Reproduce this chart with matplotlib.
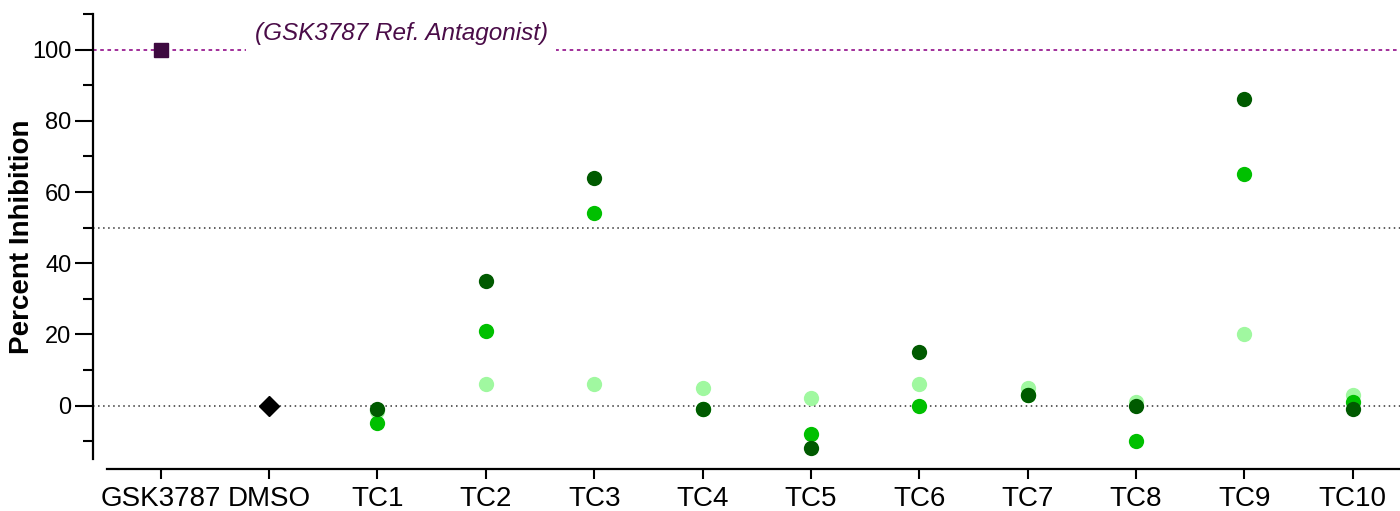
import matplotlib
matplotlib.use("Agg")
import matplotlib.pyplot as plt
from matplotlib.ticker import MultipleLocator, FixedLocator
import numpy as np

plt.rcParams['font.family'] = ['Liberation Sans', 'DejaVu Sans']

categories = ["GSK3787", "DMSO", "TC1", "TC2", "TC3", "TC4", "TC5", "TC6",
              "TC7", "TC8", "TC9", "TC10"]
ref_value = 100      # GSK3787 reference antagonist
dmso_value = 0       # DMSO vehicle
test_labels = categories[2:]
light_series = [-1.5, 6, 6, 5, 2, 6, 5, 1, 20, 3]
mid_series = [-5, 21, 54, -1, -8, 0, 3, -10, 65, 1]
dark_series = [-1, 35, 64, -1, -12, 15, 3, 0, 86, -1]
y_major = [0, 20, 40, 60, 80, 100]
threshold = 50

W, H = 1400, 511
fig = plt.figure(figsize=(W / 100, H / 100), dpi=100)
ax = fig.add_axes([93 / W, 52 / H, 1 - 93 / W, (459 - 14) / H])
ax.set_xlim(-0.625, 11.437)
ax.set_ylim(-15, 110)

xpos = np.arange(len(categories))
xt = xpos[2:]

# reference lines
ax.axhline(0, color='#333333', lw=1.1, ls=(0, (1, 2.3)), zorder=1)
ax.axhline(threshold, color='#333333', lw=1.1, ls=(0, (1, 2.3)), zorder=1)
ax.axhline(ref_value, color='#9a1f92', lw=1.3, ls=(0, (2.0, 2.0)), zorder=1)
ax.text(2.22, 104.6, "(GSK3787 Ref. Antagonist)", style='italic',
        fontsize=17.5, color='#4a0c48', ha='center', va='center', zorder=2,
        bbox=dict(boxstyle='square,pad=0.35', fc='white', ec='none'))

# points
ax.plot([xpos[0]], [ref_value], ls='none', marker='s', ms=10.5, color='#3e0a40', zorder=4)
ax.plot([xpos[1]], [dmso_value], ls='none', marker='D', ms=10, color='black', zorder=4)
ax.plot(xt, light_series, ls='none', marker='o', ms=11, color='#a0f8a0', mec='none', zorder=3)
ax.plot(xt, mid_series, ls='none', marker='o', ms=11, color='#00c000', mec='none', zorder=3)
ax.plot(xt, dark_series, ls='none', marker='o', ms=11, color='#005a00', mec='none', zorder=3)

# axes styling
for s in ['top', 'right']:
    ax.spines[s].set_visible(False)
ax.spines['left'].set_linewidth(1.6)
ax.spines['bottom'].set_linewidth(1.6)
ax.spines['bottom'].set_position(('outward', 7.2))
ax.spines['bottom'].set_bounds(-0.5, 11.437)

ax.yaxis.set_major_locator(FixedLocator(y_major))
ax.yaxis.set_minor_locator(MultipleLocator(10))
ax.tick_params(axis='y', which='major', length=13, width=1.5, labelsize=17, pad=2.4)
ax.tick_params(axis='y', which='minor', length=7.2, width=1.5)
ax.set_xticks(xpos)
ax.set_xticklabels(categories)
ax.tick_params(axis='x', which='major', length=7.2, width=1.5, labelsize=20, pad=5)

ax.set_ylabel("Percent Inhibition", fontsize=20, fontweight='bold', labelpad=-2)

fig.savefig("out.png", dpi=100)
